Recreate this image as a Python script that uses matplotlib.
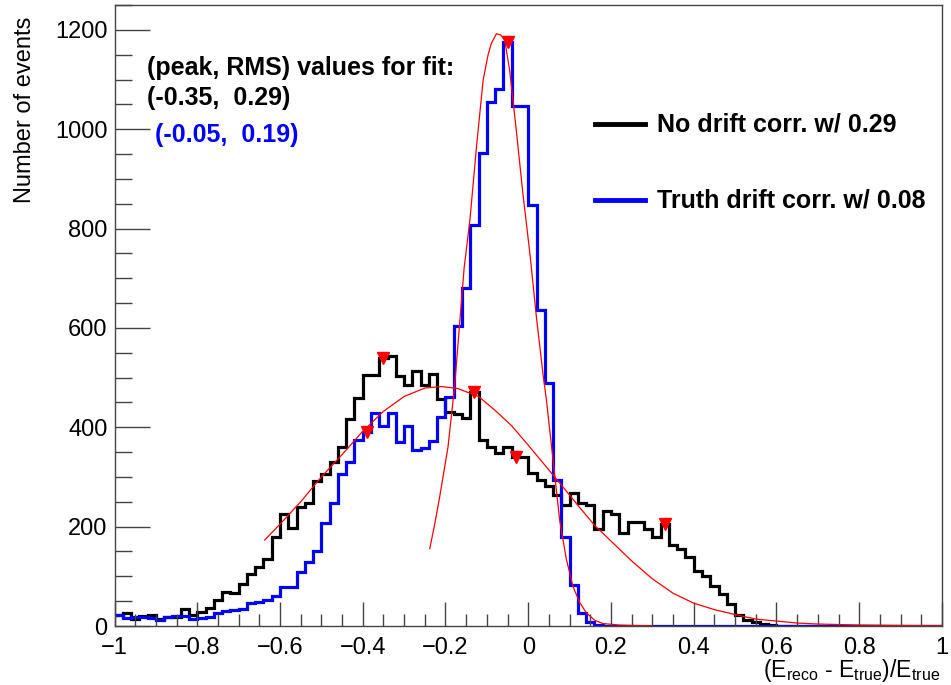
import numpy as np
import matplotlib
matplotlib.use('Agg')
import matplotlib.pyplot as plt
from matplotlib.ticker import MultipleLocator, FuncFormatter

plt.rcParams['font.family'] = ['Liberation Sans', 'DejaVu Sans']
plt.rcParams['mathtext.default'] = 'regular'

# histogram binning
x_lo, x_hi, n_bins = -1.0, 1.0, 100

# no drift correction (black)
no_corr = [22, 27, 15, 20, 22, 14, 19, 19, 34, 23,
           29, 36, 52, 69, 67, 84, 105, 118, 134, 180,
           226, 197, 240, 248, 291, 305, 331, 361, 417, 458,
           506, 506, 540, 544, 503, 485, 513, 485, 508, 456,
           431, 426, 418, 472, 374, 361, 348, 361, 341, 341,
           307, 294, 282, 264, 244, 267, 247, 243, 196, 231,
           225, 187, 210, 210, 195, 180, 205, 164, 155, 138,
           110, 100, 81, 64, 44, 22, 12, 8, 4, 2,
           1, 1, 0, 0, 0, 0, 0, 0, 0, 0,
           0, 0, 0, 0, 0, 0, 0, 0, 0, 0]

# truth drift correction (blue)
truth_corr = [22, 17, 19, 19, 17, 12, 19, 20, 20, 15,
              17, 19, 27, 30, 32, 34, 46, 49, 53, 61,
              78, 78, 109, 129, 150, 208, 247, 306, 331, 374,
              391, 428, 402, 428, 370, 402, 354, 358, 372, 421,
              460, 603, 680, 807, 952, 1054, 1080, 1176, 1046, 1047,
              848, 636, 489, 294, 179, 83, 26, 9, 2, 0,
              0, 0, 0, 0, 0, 0, 0, 0, 0, 0,
              0, 0, 0, 0, 0, 0, 0, 0, 0, 0,
              0, 0, 0, 0, 0, 0, 0, 0, 0, 0,
              0, 0, 0, 0, 0, 0, 0, 0, 0, 0]

# fit curves
fit_broad_x = [-0.637, -0.60, -0.55, -0.50, -0.45, -0.40, -0.35, -0.30, -0.25, -0.21,
               -0.17, -0.12, -0.08, -0.04, 0.00, 0.04, 0.08, 0.12, 0.16, 0.20,
               0.25, 0.30, 0.35, 0.40, 0.45, 0.50, 0.55, 0.60, 0.65, 0.70,
               0.80, 0.90, 1.00]
fit_broad_y = [173, 205, 250, 300, 345, 392, 432, 462, 479, 482,
               478, 462, 434, 403, 364, 324, 284, 243, 203, 171,
               131, 95, 66, 46, 33, 23, 14, 10, 6, 4,
               2, 1, 0.5]

fit_narrow_x = [-0.238, -0.226, -0.214, -0.194, -0.178, -0.167, -0.155, -0.141, -0.125, -0.109,
                -0.097, -0.089, -0.077, -0.067, -0.057, -0.045, -0.029, -0.013, 0.004, 0.020,
                0.036, 0.044, 0.060, 0.076, 0.092, 0.108, 0.124, 0.140, 0.160, 0.180,
                0.220, 0.260, 0.300]
fit_narrow_y = [156, 205, 260, 360, 482, 596, 720, 817, 965, 1099,
                1150, 1173, 1192, 1190, 1180, 1119, 999, 871, 750, 620,
                505, 455, 334, 213, 135, 80, 48, 27, 12, 5,
                2, 1, 0.5]

# peak markers
peak_x = [-0.35, -0.13, -0.03, 0.33, -0.39, -0.05]
peak_y = [540, 472, 341, 205, 391, 1176]

fig = plt.figure(figsize=(9.51, 6.85), dpi=100)
ax = fig.add_axes([0.1204, 0.0861, 0.8701, 0.9066])

edges = np.linspace(x_lo, x_hi, n_bins + 1)
ax.stairs(no_corr, edges, color='black', linewidth=2.3, baseline=None)
ax.stairs(truth_corr, edges, color=(0, 0, 1), linewidth=2.3, baseline=None)
ax.plot(fit_broad_x, fit_broad_y, color='red', linewidth=0.9)
ax.plot(fit_narrow_x, fit_narrow_y, color='red', linewidth=0.9)
ax.plot(peak_x, peak_y, linestyle='none', marker='v', color='red', markersize=8)

ax.set_xlim(-1, 1)
ax.set_ylim(0, 1250)
ax.xaxis.set_major_locator(MultipleLocator(0.2))
ax.xaxis.set_minor_locator(MultipleLocator(0.05))
ax.yaxis.set_major_locator(MultipleLocator(200))
ax.yaxis.set_minor_locator(MultipleLocator(50))


def fmt(v, pos):
    s = '%g' % round(v, 2)
    return s.replace('-', '\u2212')


ax.xaxis.set_major_formatter(FuncFormatter(fmt))
ax.tick_params(axis='both', which='both', direction='in', top=False, right=False,
               color='#444444', labelsize=17)
ax.tick_params(axis='x', which='major', length=17, width=1, pad=8)
ax.tick_params(axis='x', which='minor', length=8.5, width=1)
ax.tick_params(axis='y', which='major', length=25, width=1, pad=5)
ax.tick_params(axis='y', which='minor', length=12.5, width=1)
for sp in ax.spines.values():
    sp.set_color('#444444')
    sp.set_linewidth(1)

fig.text(25 / 951, 1 - 17 / 685, 'Number of events', rotation=90,
         ha='center', va='top', fontsize=17)
fig.text(940 / 951, 1 - 677 / 685, '(E$_{reco}$ - E$_{true}$)/E$_{true}$',
         ha='right', va='baseline', fontsize=16.5)

fig.text(147 / 951, 1 - 68 / 685, '(peak, RMS) values for fit:',
         ha='left', va='center', fontsize=18, fontweight='bold')
fig.text(147 / 951, 1 - 98 / 685, '(-0.35,  0.29)',
         ha='left', va='center', fontsize=18, fontweight='bold')
fig.text(155 / 951, 1 - 135 / 685, '(-0.05,  0.19)', color=(0, 0, 1),
         ha='left', va='center', fontsize=18, fontweight='bold')

# legend drawn by hand, ROOT style
fig.add_artist(plt.Line2D([595 / 951, 645 / 951], [1 - 124 / 685, 1 - 124 / 685],
                          color='black', linewidth=3.5))
fig.add_artist(plt.Line2D([595 / 951, 645 / 951], [1 - 200 / 685, 1 - 200 / 685],
                          color=(0, 0, 1), linewidth=3.5))
fig.text(657 / 951, 1 - 124 / 685, 'No drift corr. w/ 0.29',
         ha='left', va='center', fontsize=18, fontweight='bold')
fig.text(657 / 951, 1 - 200 / 685, 'Truth drift corr. w/ 0.08',
         ha='left', va='center', fontsize=18, fontweight='bold')

fig.savefig('out.png', dpi=100)
